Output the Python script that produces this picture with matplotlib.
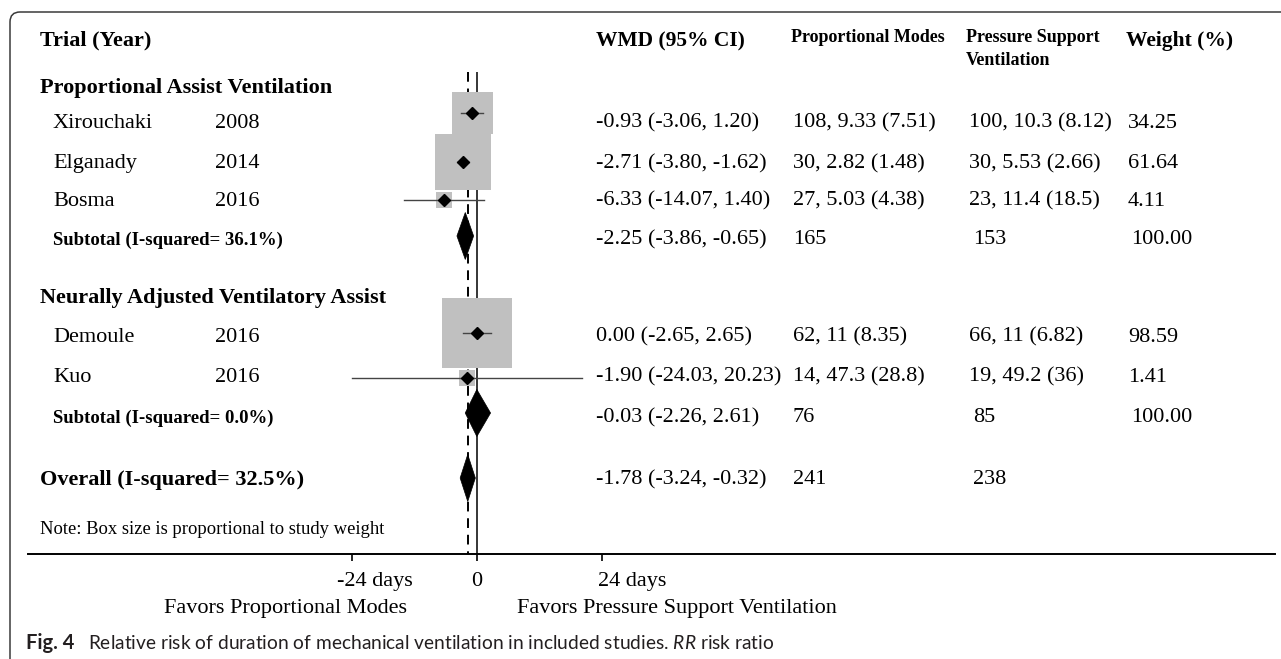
import matplotlib
matplotlib.use('Agg')
import matplotlib.pyplot as plt
from matplotlib.patches import Rectangle, Polygon, FancyBboxPatch
from matplotlib.transforms import IdentityTransform, ScaledTranslation
import numpy as np

plt.rcParams['font.family'] = 'Liberation Serif'
plt.rcParams['mathtext.fontset'] = 'custom'
plt.rcParams['mathtext.it'] = 'Lato:italic'
plt.rcParams['mathtext.rm'] = 'Lato'

# ---- data ----
studies = ['Xirouchaki', 'Elganady', 'Bosma', 'Demoule', 'Kuo']
years = ['2008', '2014', '2016', '2016', '2016']
wmd = [-0.93, -2.71, -6.33, 0.00, -1.90]
ci_lo = [-3.06, -3.80, -14.07, -2.65, -24.03]
ci_hi = [1.20, -1.62, 1.40, 2.65, 20.23]
weights = [34.25, 61.64, 4.11, 98.59, 1.41]
prop_modes = ['108, 9.33 (7.51)', '30, 2.82 (1.48)', '27, 5.03 (4.38)', '62, 11 (8.35)', '14, 47.3 (28.8)']
psv = ['100, 10.3 (8.12)', '30, 5.53 (2.66)', '23, 11.4 (18.5)', '66, 11 (6.82)', '19, 49.2 (36)']

groups = ['Proportional Assist Ventilation', 'Neurally Adjusted Ventilatory Assist']
sub_i2 = [36.1, 0.0]
sub_est = [-2.25, -0.03]
sub_lo = [-3.86, -2.26]
sub_hi = [-0.65, 2.61]
sub_n_prop = [165, 76]
sub_n_psv = [153, 85]
sub_weight = [100.00, 100.00]

overall_i2 = 32.5
overall_est, overall_lo, overall_hi = -1.78, -3.24, -0.32
overall_n_prop, overall_n_psv = 241, 238

xticks = [-24, 0, 24]
xticklabels = ['-24 days', '0', '24 days']

# ---- layout (pixels) ----
W, H = 1281, 659
ZERO_PX, PX_PER_DAY = 477, 5.2
AX_L, AX_R, AX_B = 28, 1275, 554
mark_y = [113, 162, 200, 333, 378]
text_y = [123, 164, 201, 337, 377]
sub_mark_y = [236, 413]
sub_text_y = [240, 418]
group_y = [88, 298]
overall_y, overall_text_y = 478, 480
col_wmd, col_prop, col_psv, col_wt = 596, 793, 969, 1128

fig = plt.figure(figsize=(W / 100, H / 100), dpi=100)
ax = fig.add_axes([AX_L / W, (H - AX_B) / H, (AX_R - AX_L) / W, AX_B / H])
ax.set_xlim((AX_L - ZERO_PX) / PX_PER_DAY, (AX_R - ZERO_PX) / PX_PER_DAY)
ax.set_ylim(AX_B, 0)  # y in pixels from top


def put(x, y, s, size=16, weight='normal', **kw):
    fig.text(x / W, 1 - y / H, s, fontsize=size, fontweight=weight,
             va='center', ha=kw.pop('ha', 'left'), **kw)


# reference lines
ax.vlines(0, 72, AX_B, color='black', lw=1.1)
ax.vlines(overall_est, 72, AX_B, color='black', lw=1.4, linestyles=(0, (5, 3.5)))

# studies
for i in range(len(studies)):
    side = max(np.sqrt(weights[i]) * 7.05, 16)
    ax.add_patch(Rectangle((wmd[i] - side / 2 / PX_PER_DAY, mark_y[i] - side / 2),
                           side / PX_PER_DAY, side, fc='#c0c0c0', ec='none', zorder=2))
    ax.plot([ci_lo[i], ci_hi[i]], [mark_y[i], mark_y[i]], color='#444444', lw=1.0, zorder=3)
    ax.plot(wmd[i], mark_y[i], marker='D', ms=6, color='black', zorder=4)

# pooled diamonds
def diamond(est, lo, hi, y, h=23.5):
    ax.add_patch(Polygon([[lo, y], [est, y - h], [hi, y], [est, y + h]],
                         closed=True, fc='black', ec='black', lw=0.5, zorder=4))

for g in range(2):
    diamond(sub_est[g], sub_lo[g], sub_hi[g], sub_mark_y[g])
diamond(overall_est, overall_lo, overall_hi, overall_y)

for s in ['top', 'left', 'right']:
    ax.spines[s].set_visible(False)
ax.spines['bottom'].set_linewidth(1.4)
ax.set_yticks([])
ax.set_xticks(xticks)
ax.set_xticklabels(xticklabels, fontsize=16)
ax.tick_params(axis='x', length=5, width=1.2, pad=8)
offsets = {'-24 days': -15, '0': 0, '24 days': -4}
for lab in ax.get_xticklabels():
    t = lab.get_text()
    lab.set_ha('center' if t == '0' else 'left')
    lab.set_transform(lab.get_transform() + ScaledTranslation(offsets[t] / 100, 0, fig.dpi_scale_trans))

# headers
put(40, 40, 'Trial (Year)', 16, 'bold')
put(col_wmd, 41, 'WMD (95% CI)', 15.5, 'bold')
put(col_prop - 2, 38, 'Proportional Modes', 13, 'bold')
put(col_psv - 3, 49, 'Pressure Support\nVentilation', 13, 'bold', linespacing=1.4)
put(col_wt - 2, 41, 'Weight (%)', 15.5, 'bold')

idx = 0
for g, n in zip(range(2), [3, 2]):
    put(40, group_y[g], groups[g], 16, 'bold')
    for i in range(idx, idx + n):
        put(53, text_y[i], studies[i])
        put(215, text_y[i], years[i])
        put(col_wmd, text_y[i], f'{wmd[i]:.2f} ({ci_lo[i]:.2f}, {ci_hi[i]:.2f})')
        put(col_prop, text_y[i], prop_modes[i])
        put(col_psv, text_y[i], psv[i])
        put(col_wt, text_y[i], f'{weights[i]:.2f}')
    idx += n
    put(53, sub_text_y[g], f'Subtotal (I-squared= {sub_i2[g]:.1f}%)', 13.5, 'bold')
    put(col_wmd, sub_text_y[g], f'{sub_est[g]:.2f} ({sub_lo[g]:.2f}, {sub_hi[g]:.2f})')
    put(col_prop, sub_text_y[g], str(sub_n_prop[g]))
    put(col_psv + 4, sub_text_y[g], str(sub_n_psv[g]))
    put(col_wt + 3, sub_text_y[g], f'{sub_weight[g]:.2f}')

put(40, overall_text_y, f'Overall (I-squared= {overall_i2:.1f}%)', 16, 'bold')
put(col_wmd, overall_text_y, f'{overall_est:.2f} ({overall_lo:.2f}, {overall_hi:.2f})')
put(col_prop, overall_text_y, str(overall_n_prop))
put(col_psv + 4, overall_text_y, str(overall_n_psv))
put(40, 529, 'Note: Box size is proportional to study weight', 13.4)

put(286, 609, 'Favors Proportional Modes', 16, ha='center')
put(677, 609, 'Favors Pressure Support Ventilation', 16, ha='center')

# caption
put(26, 643, 'Fig. 4', 14.5, 'bold', family='Lato', color='#231f20')
put(88, 643, r'Relative risk of duration of mechanical ventilation in included studies. $\it{RR}$ risk ratio',
    13.8, family='Lato', color='#231f20')

# frame
fig.add_artist(FancyBboxPatch((10, -60), 1400, H - 12 + 60, boxstyle='round,pad=0,rounding_size=10',
                              transform=IdentityTransform(), fill=False, ec='#3a3a3a', lw=1.1))

plt.savefig('out.png', dpi=100)
